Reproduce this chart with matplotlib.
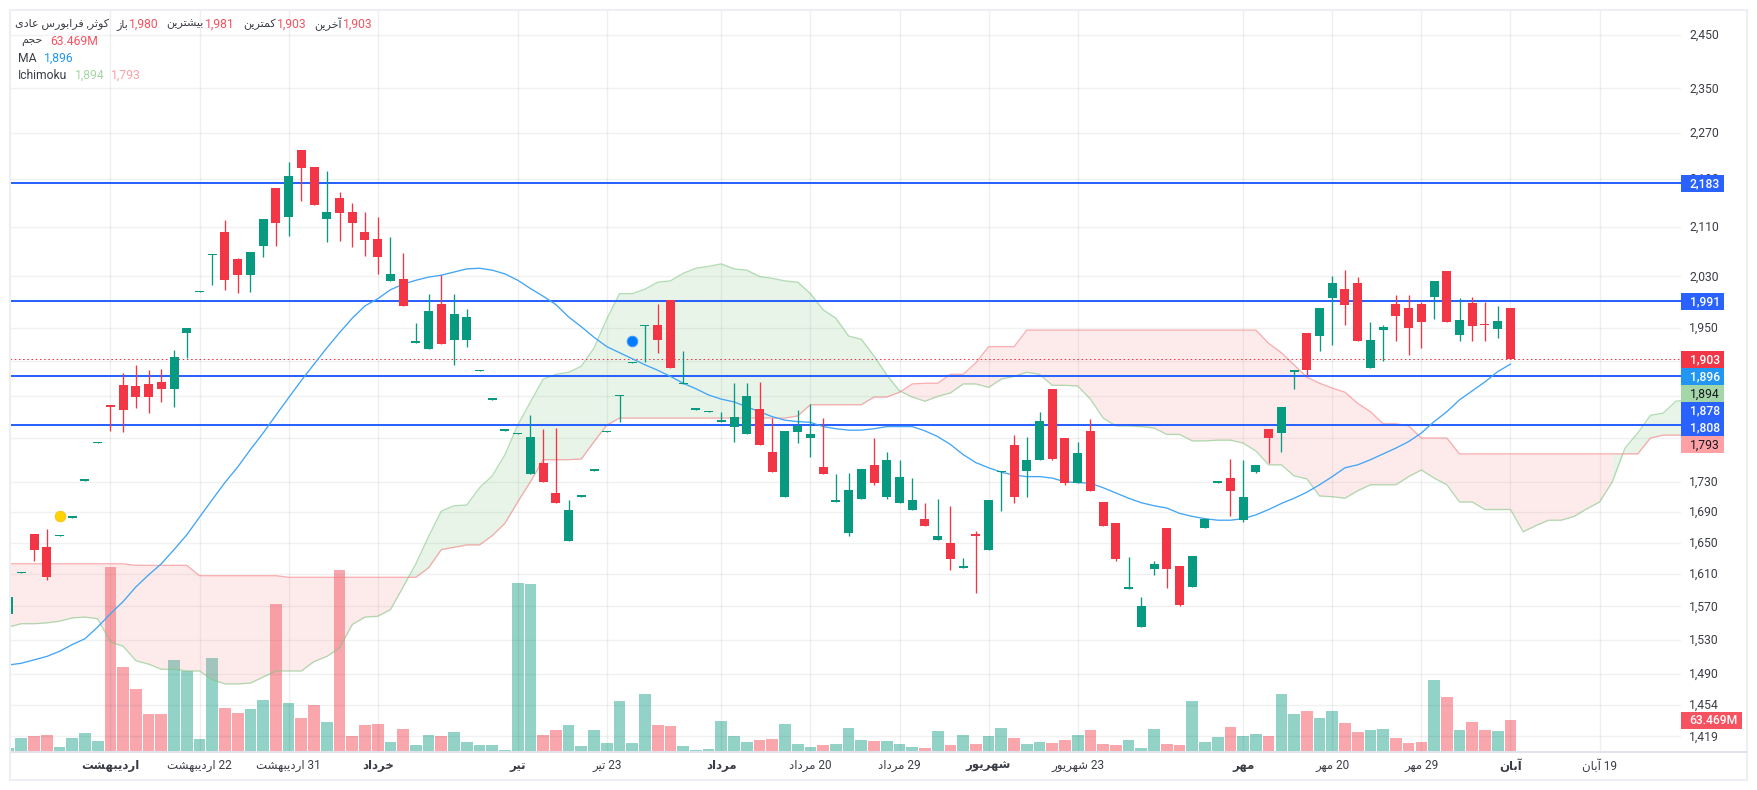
import matplotlib
matplotlib.use("Agg")
import matplotlib.pyplot as plt
from matplotlib.patches import Rectangle
from matplotlib.ticker import NullLocator
from matplotlib.transforms import ScaledTranslation
import re

W, H = 1757, 790
plt.rcParams['font.family'] = ['Roboto', 'DejaVu Sans']

# ---------- data (prices on the chart's log scale, volume in millions) ----------
opens = [1561,1611,1661,1644,1658,1682,1731,1783,1837,1865,1864,1867,1870,1860,1943,2005,2064,2101,2058,2032,
         2079,2175,2126,2240,2211,2123,2158,2134,2101,2090,2023,2026,1928,1919,1987,1932,1932,1886,1844,1800,
         1795,1741,1756,1715,1652,1710,1745,1798,1849,1897,1953,1955,1993,1867,1830,1826,1813,1806,1795,1831,
         1771,1710,1799,1790,1750,1703,1663,1707,1753,1710,1701,1693,1681,1653,1650,1618,1661,1640,1743,1780,
         1745,1759,1860,1790,1729,1800,1703,1675,1592,1545,1616,1669,1620,1594,1669,1729,1735,1679,1743,1803,
         1797,1885,1943,1938,1996,2010,2020,1890,1947,1987,1981,1987,1998,2039,1940,1989,1956,1949,1980]
highs = [1582,1613,1661,1668,1660,1684,1734,1785,1837,1883,1895,1887,1889,1917,1950,2007,2066,2121,2059,2069,
         2123,2175,2219,2240,2211,2203,2168,2149,2134,2126,2093,2067,1958,2003,2032,2003,1979,1888,1846,1802,
         1797,1822,1803,1804,1706,1712,1747,1800,1851,1899,1955,1987,1993,1916,1832,1828,1827,1868,1868,1870,
         1818,1800,1830,1838,1818,1741,1742,1747,1790,1771,1760,1735,1701,1707,1698,1630,1665,1705,1745,1794,
         1791,1827,1860,1790,1784,1817,1703,1675,1631,1582,1626,1669,1620,1633,1681,1731,1761,1759,1753,1803,
         1834,1887,1943,1981,2030,2040,2029,1959,1955,2001,2001,1990,2023,2039,1996,1998,1990,1984,1981]
lows = [1561,1611,1626,1603,1658,1682,1731,1783,1800,1799,1832,1825,1841,1834,1905,2005,2016,2009,2004,2006,
        2061,2079,2095,2153,2146,2085,2087,2077,2062,2034,2023,1984,1928,1919,1926,1895,1922,1886,1844,1800,
        1795,1741,1730,1701,1652,1710,1745,1798,1812,1897,1899,1913,1890,1867,1830,1826,1813,1785,1795,1780,
        1743,1710,1783,1764,1741,1703,1659,1707,1726,1707,1701,1693,1671,1653,1615,1618,1587,1640,1691,1701,
        1710,1759,1760,1726,1729,1718,1672,1626,1592,1545,1609,1593,1570,1594,1669,1729,1684,1677,1742,1756,
        1771,1860,1878,1916,1925,1955,1931,1890,1901,1931,1910,1920,1964,1959,1931,1931,1931,1935,1903]
closes = [1582,1613,1641,1606,1660,1684,1734,1785,1834,1830,1848,1848,1860,1907,1950,2007,2066,2024,2032,2069,
          2123,2116,2196,2209,2146,2134,2133,2116,2089,2061,2034,1984,1931,1976,1926,1972,1967,1888,1846,1802,
          1797,1792,1730,1701,1693,1712,1747,1800,1851,1899,1955,1932,1890,1869,1832,1828,1815,1820,1849,1780,
          1743,1800,1807,1796,1741,1705,1719,1747,1729,1760,1737,1706,1671,1659,1629,1620,1658,1705,1745,1710,
          1760,1814,1761,1729,1769,1718,1672,1629,1594,1570,1623,1616,1572,1633,1681,1731,1718,1710,1753,1790,
          1834,1887,1887,1981,2020,1986,1931,1932,1952,1969,1950,1959,2023,1959,1962,1953,1954,1961,1903]
volumes = [8.5,28.4,32.3,34.3,10.5,28.4,38.3,22.4,367,169,125.5,76,76,183,161,26.4,187,87.8,78,85.9,
           103.7,293.5,97.8,68,93.8,60,361,32.3,54.1,56.1,20.4,46.2,14.5,34.3,32.3,40.3,20.4,14.5,14.5,4.6,
           335,333,33.7,43.6,53.5,11.9,43.6,17.8,101,17.8,115,53.5,51.6,11.9,4,5.9,61.5,31.7,19.8,23.8,
           25.8,55.5,15.9,9.9,13.9,15.9,47.6,23.8,21.8,21.8,15.9,9.9,7.9,41.6,13.9,33.7,15.9,31.7,47.6,27.8,
           15.9,19.8,17.8,23.8,33.7,43.6,15.9,13.9,23.8,7.9,45.6,15.9,13.9,101,19.8,29.7,49.6,31.7,35.7,31.7,
           115,75.4,81.3,67.4,81.3,57.5,39.7,43.6,45.6,27.8,17.8,19.8,142.8,109,43.6,59.5,43.6,41.6,63.469]
ma = [1500,1502,1506,1510,1516,1524,1531,1545,1561,1576,1594,1609,1623,1641,1660,1683,1706,1729,1750,1774,
      1797,1822,1847,1872,1896,1920,1943,1965,1984,1995,2009,2018,2024,2029,2032,2037,2042,2043,2040,2034,
      2024,2011,1999,1986,1967,1952,1936,1922,1913,1904,1895,1887,1878,1868,1860,1851,1845,1841,1834,1827,
      1820,1815,1813,1812,1806,1803,1801,1801,1803,1806,1806,1806,1800,1792,1781,1767,1756,1749,1743,1739,
      1737,1737,1735,1730,1729,1728,1722,1715,1708,1702,1698,1695,1688,1684,1681,1679,1679,1681,1686,1693,
      1701,1708,1716,1726,1737,1749,1753,1760,1768,1776,1785,1797,1813,1827,1844,1857,1870,1885,1896]
span_a = [1545,1549,1549,1550,1552,1556,1557,1555,1527,1522,1505,1501,1495,1495,1493,1493,1483,1478,1478,1479,
          1486,1493,1493,1493,1504,1510,1520,1548,1557,1558,1566,1594,1623,1658,1691,1698,1699,1722,1738,1767,
          1808,1841,1874,1881,1884,1893,1920,1964,2003,2003,2010,2021,2023,2035,2043,2046,2050,2042,2040,2030,
          2027,2023,2021,2003,1978,1965,1938,1933,1908,1880,1857,1848,1842,1849,1854,1867,1867,1862,1874,1878,
          1884,1881,1865,1865,1864,1845,1818,1807,1807,1806,1804,1795,1795,1786,1786,1787,1787,1783,1772,1753,
          1753,1738,1734,1711,1710,1708,1718,1726,1726,1726,1737,1746,1735,1726,1703,1703,1693,1693,1693,1664,
          1672,1679,1679,1684,1694,1703,1730,1776,1797,1822,1825,1842,1844]
span_b = [1623,1623,1623,1623,1623,1623,1623,1623,1623,1623,1621,1621,1621,1621,1621,1608,1608,1608,1608,1608,
          1608,1608,1606,1606,1606,1606,1606,1606,1606,1606,1606,1606,1606,1618,1641,1644,1647,1647,1659,1675,
          1703,1730,1760,1760,1760,1761,1785,1808,1818,1818,1818,1818,1818,1818,1818,1818,1818,1818,1818,1818,
          1818,1818,1821,1837,1837,1837,1837,1837,1848,1848,1855,1867,1868,1868,1881,1881,1898,1922,1922,1922,
          1947,1947,1947,1947,1947,1947,1947,1947,1947,1947,1947,1947,1947,1947,1947,1947,1947,1947,1947,1927,
          1913,1895,1877,1868,1861,1855,1839,1827,1810,1810,1807,1790,1790,1790,1768,1768,1768,1768,1768,1768,
          1768,1768,1768,1768,1768,1768,1768,1768,1768,1790,1794,1794,1794]
level_lines = [2183, 1991, 1878, 1808]
last_price = 1903
y_ticks = [2450,2350,2270,2190,2110,2030,1950,1900,1850,1790,1730,1690,1650,1610,1570,1530,1490,1454,1419]
x_tick_pos = [8,15,22,29,40,47,56,63,70,77,84,97,104,111,118,125]
x_tick_text = ["اردیبهشت","22 اردیبهشت","31 اردیبهشت","خرداد","تیر","23 تیر","مرداد","20 مرداد",
               "29 مرداد","شهریور","23 شهریور","مهر","20 مهر","29 مهر","آبان","19 آبان"]
x_tick_bold = [True,False,False,True,True,False,True,False,False,True,False,True,False,False,True,False]
marker_yellow = (4, 1684)
marker_blue = (49, 1930)

GREEN, RED = '#089981', '#f23645'
BLUE_LINE = '#2962ff'
TEXT = '#3a3d45'

# ---------- Arabic-script shaping (matplotlib does not shape or reorder) ----------
FORMS = {
    'ا': (0xFE8D,0xFE8E), 'آ': (0xFE81,0xFE82), 'د': (0xFEA9,0xFEAA), 'ذ': (0xFEAB,0xFEAC),
    'ر': (0xFEAD,0xFEAE), 'ز': (0xFEAF,0xFEB0), 'و': (0xFEED,0xFEEE),
    'ب': (0xFE8F,0xFE90,0xFE91,0xFE92), 'ت': (0xFE95,0xFE96,0xFE97,0xFE98), 'ث': (0xFE99,0xFE9A,0xFE9B,0xFE9C),
    'ج': (0xFE9D,0xFE9E,0xFE9F,0xFEA0), 'ح': (0xFEA1,0xFEA2,0xFEA3,0xFEA4), 'خ': (0xFEA5,0xFEA6,0xFEA7,0xFEA8),
    'س': (0xFEB1,0xFEB2,0xFEB3,0xFEB4), 'ش': (0xFEB5,0xFEB6,0xFEB7,0xFEB8), 'ع': (0xFEC9,0xFECA,0xFECB,0xFECC),
    'ف': (0xFED1,0xFED2,0xFED3,0xFED4), 'ق': (0xFED5,0xFED6,0xFED7,0xFED8), 'ل': (0xFEDD,0xFEDE,0xFEDF,0xFEE0),
    'م': (0xFEE1,0xFEE2,0xFEE3,0xFEE4), 'ن': (0xFEE5,0xFEE6,0xFEE7,0xFEE8), 'ه': (0xFEE9,0xFEEA,0xFEEB,0xFEEC),
    'ی': (0xFBFC,0xFBFD,0xFBFE,0xFBFF), 'ک': (0xFB8E,0xFB8F,0xFB90,0xFB91),
}

def fa(s):
    out = []
    for k, ch in enumerate(s):
        f = FORMS.get(ch)
        if f is None:
            out.append(ch)
            continue
        prev = s[k-1] if k else ''
        nxt = s[k+1] if k + 1 < len(s) else ''
        join_prev = prev in FORMS and len(FORMS[prev]) == 4
        join_next = nxt in FORMS and len(f) == 4
        if join_prev and join_next:
            g = f[3]
        elif join_prev:
            g = f[1]
        elif join_next:
            g = f[2]
        else:
            g = f[0]
        out.append(chr(g))
    vis = ''.join(out)[::-1]
    return re.sub(r'[0-9][0-9,.]*', lambda m: m.group(0)[::-1], vis)

# ---------- figure and axes ----------
fig = plt.figure(figsize=(W/100, H/100), dpi=100, facecolor='white')
rect = [10/W, 1-752/H, (1681-10)/W, (752-11)/H]
vol_ax = fig.add_axes(rect, zorder=0)
ax = fig.add_axes(rect, zorder=1, sharex=vol_ax)
ax.patch.set_visible(False)
ax.set_yscale('log')
ax.set_ylim(1401.7, 2496.2)
ax.set_xlim(0.11, 131.4)
vol_ax.set_ylim(0, 741*63.469/32)
vol_ax.axis('off')

xs = list(range(len(opens)))
cols = [GREEN if c >= o else RED for o, c in zip(opens, closes)]

# volume
vol_ax.bar(xs, volumes, width=0.92, color=cols, alpha=0.44, linewidth=0)

# ichimoku cloud: each segment coloured by its right-hand point
xa = list(range(len(span_a)))
run = 0
for k in range(1, len(xa)):
    up = span_a[k] >= span_b[k]
    end = k == len(xa)-1 or (span_a[k+1] >= span_b[k+1]) != up
    if end:
        ax.fill_between(xa[run:k+1], span_a[run:k+1], span_b[run:k+1],
                        color='#81c784' if up else '#f77c80', alpha=0.18 if up else 0.15,
                        linewidth=0, zorder=1)
        run = k
ax.plot(xa, span_a, color='#81c784', alpha=0.6, lw=0.95, zorder=2)
ax.plot(xa, span_b, color='#f77c80', alpha=0.6, lw=0.95, zorder=2)

# level lines, last price, moving average
for v in level_lines:
    ax.axhline(v, color=BLUE_LINE, lw=1.45, zorder=3)
ax.axhline(last_price, color=RED, lw=0.72, ls=(0, (1.6, 2.6)), zorder=3)
ax.plot(xs, ma, color='#42a5f5', lw=0.95, zorder=4)

# candles
ax.vlines(xs, lows, highs, colors=cols, lw=0.95, zorder=5)
ax.bar(xs, [abs(c-o) for o, c in zip(opens, closes)], bottom=[min(o, c) for o, c in zip(opens, closes)],
       width=0.707, color=cols, linewidth=0, zorder=6)

# event markers
ax.plot(*marker_yellow, 'o', ms=7.6, mfc='#ffd400', mec='#f5c518', mew=0.7, zorder=7)
ax.plot(*marker_blue, 'o', ms=7.6, mfc='#007bff', mec='#3d9bff', mew=0.7, zorder=7)

# axes dressing
for s in ax.spines.values():
    s.set_visible(False)
ax.yaxis.tick_right()
ax.set_yticks(y_ticks, [f'{v:,}' for v in y_ticks])
ax.yaxis.set_minor_locator(NullLocator())
ax.tick_params(axis='y', length=0, pad=6.0, labelsize=8.7, labelcolor=TEXT, labelright=True, labelleft=False)
for tick in ax.yaxis.get_major_ticks():
    tick.label2.set_verticalalignment('center_baseline')
    tick.label2.set_transform(tick.label2.get_transform() + ScaledTranslation(0, 0.7/72, fig.dpi_scale_trans))
ax.set_xticks(x_tick_pos, [fa(t) for t in x_tick_text])
ax.tick_params(axis='x', length=0, pad=5, labelsize=8.5, labelcolor=TEXT)
for lab, bold in zip(ax.get_xticklabels(), x_tick_bold):
    if bold:
        lab.set_fontweight('bold')
ax.set_axisbelow(True)
ax.grid(True, axis='y', color='#2a2e39', alpha=0.065, lw=0.95)
ax.grid(True, axis='x', color='#2a2e39', alpha=0.075, lw=0.95)

# ---------- pixel-placed furniture ----------
def px_rect(x0, y0, x1, y1, **kw):
    fig.add_artist(Rectangle((x0/W, 1-y1/H), (x1-x0)/W, (y1-y0)/H, transform=fig.transFigure, **kw))

def px_text(x, y, s, color=TEXT, ha='left', size=8.7, **kw):
    fig.text(x/W, 1-(y-1)/H, s, color=color, ha=ha, va='center_baseline', fontsize=size, zorder=12, **kw)

px_rect(10, 10, 1747, 780, fill=False, ec='#eeeff4', lw=1.45, zorder=8)
px_rect(10, 751.4, 1747, 752.6, fc='#e0e3eb', lw=0, zorder=8)

tags = [('2,183', 183, BLUE_LINE, 'white', 'medium'), ('1,991', 301, BLUE_LINE, 'white', 'medium'),
        ('1,903', 359.5, RED, 'white', 'medium'), ('1,896', 376.5, '#2196f3', 'white', 'medium'),
        ('1,894', 393.5, '#a5d6a7', '#131722', 'normal'), ('1,878', 410.5, BLUE_LINE, 'white', 'medium'),
        ('1,808', 427.5, BLUE_LINE, 'white', 'medium'), ('1,793', 444.5, '#ffa0a5', '#131722', 'normal')]
for txt, yc, bg, fg, wt in tags:
    px_rect(1681, yc-8.5, 1724, yc+8.5, fc=bg, lw=0, zorder=10)
    px_text(1689.7, yc, txt, color=fg, weight=wt)
px_rect(1681, 712, 1742, 729, fc='#f7525f', lw=0, zorder=10)
px_text(1689, 720.5, '63.469M', color='white', weight='medium')

# legend block
NUM = '#f7525f'
AR = 8.0
px_text(109, 24, fa('کوثر, فرابورس عادی'), ha='right', size=AR)
px_text(128, 24, fa('باز'), ha='right', size=AR)
px_text(129, 24, '1,980', color=NUM)
px_text(204, 24, fa('بیشترین'), ha='right', size=AR)
px_text(205, 24, '1,981', color=NUM)
px_text(276, 24, fa('کمترین'), ha='right', size=AR)
px_text(277, 24, '1,903', color=NUM)
px_text(342, 24, fa('آخرین'), ha='right', size=AR)
px_text(343, 24, '1,903', color=NUM)
px_text(43, 41, fa('حجم'), ha='right', size=AR)
px_text(50, 41, '63.469M', color=NUM)
px_text(18, 58, 'MA')
px_text(44, 58, '1,896', color='#2196f3')
px_text(18, 75, 'Ichimoku')
px_text(75, 75, '1,894', color='#a5d6a7')
px_text(111, 75, '1,793', color='#ffa0a5')

fig.savefig('out.png', dpi=100, facecolor='white')
